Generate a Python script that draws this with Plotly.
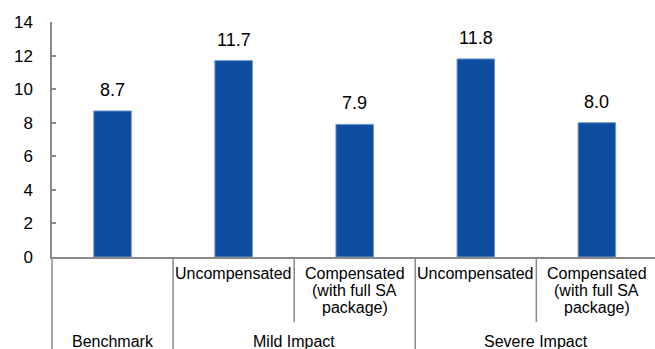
import plotly.graph_objects as go

# ---- data ----
groups = ["Benchmark", "Mild Impact", "Mild Impact", "Severe Impact", "Severe Impact"]
subs = ["", "Uncompensated", "Compensated<br>(with full SA<br>package)",
        "Uncompensated", "Compensated<br>(with full SA<br>package)"]
values = [8.7, 11.7, 7.9, 11.8, 8.0]
y_ticks = [0, 2, 4, 6, 8, 10, 12, 14]

# ---- style ----
FONT = "Liberation Sans, Arial, sans-serif"
BAR = "#0D4C9F"
AX = "#8A8A8A"
PLOT_H = 235  # px, used to convert pixel offsets to paper units
LINE_GAP = 17.3  # px between label lines

xs = list(range(len(values)))

fig = go.Figure()
fig.add_trace(go.Bar(
    x=xs, y=values, width=0.31,
    marker=dict(color=BAR, line=dict(color="#6E97D2", width=1)),
    hoverinfo="skip",
))

annotations = []
# data labels
for x, v in zip(xs, values):
    annotations.append(dict(x=x, y=v, xref="x", yref="y", text=f"{v:.1f}",
                            showarrow=False, yanchor="bottom", yshift=9,
                            font=dict(family=FONT, size=18, color="#000")))
# sub-category labels (one annotation per line to keep tight line spacing)
for x, s in zip(xs, subs):
    if s:
        for k, line in enumerate(s.split("<br>")):
            center = 16 + LINE_GAP * k
            annotations.append(dict(x=x, y=-center / PLOT_H, xref="x", yref="paper",
                                    text=line, showarrow=False, yanchor="middle",
                                    font=dict(family=FONT, size=16, color="#000")))
# group labels
seen = []
for g in groups:
    if g not in seen:
        seen.append(g)
for g in seen:
    idx = [i for i, gg in enumerate(groups) if gg == g]
    annotations.append(dict(x=sum(idx) / len(idx), y=-84 / PLOT_H, xref="x", yref="paper",
                            text=g, showarrow=False, yanchor="middle",
                            font=dict(family=FONT, size=16, color="#000")))

shapes = []
# extension of the y axis line down through the label area
shapes.append(dict(type="line", xref="paper", yref="paper", x0=0, x1=0, y0=0, y1=-0.45,
                   line=dict(color=AX, width=1.5)))
for i in range(1, len(groups)):
    if groups[i] != groups[i - 1]:
        y1 = -0.45
    else:
        y1 = -65 / PLOT_H
    shapes.append(dict(type="line", xref="x", yref="paper", x0=i - 0.5, x1=i - 0.5,
                       y0=0, y1=y1, line=dict(color=AX, width=1.5)))

fig.update_layout(
    width=655, height=349,
    margin=dict(l=52, r=0, t=22, b=92),
    paper_bgcolor="white", plot_bgcolor="white",
    showlegend=False,
    annotations=annotations, shapes=shapes,
    font=dict(family=FONT, size=16, color="#000"),
    xaxis=dict(range=[-0.5, 4.48], showticklabels=False, ticks="",
               showline=True, linecolor=AX, linewidth=1.5, showgrid=False, zeroline=False,
               fixedrange=True),
    yaxis=dict(range=[0, 14], tickvals=y_ticks, ticks="inside", ticklen=4, tickcolor=AX,
               tickwidth=1.5, showline=True, linecolor=AX, linewidth=1.5, showgrid=False,
               zeroline=False, ticklabelstandoff=14,
               tickfont=dict(family=FONT, size=17, color="#000"), fixedrange=True),
)

fig.write_html("out.html", config={"displayModeBar": False})
